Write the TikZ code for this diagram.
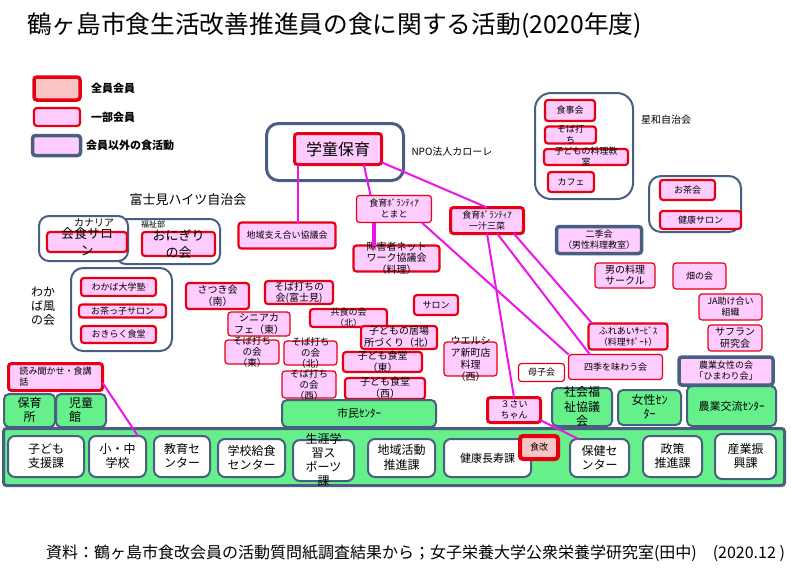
\documentclass[tikz,border=0pt]{standalone}
\usepackage{fontspec}
\setmainfont{Noto Sans CJK JP}
\usetikzlibrary{positioning}

\definecolor{memred}{RGB}{230,0,18}
\definecolor{memfill}{RGB}{255,204,255}
\definecolor{allfill}{RGB}{248,196,196}
\definecolor{slate}{RGB}{72,95,130}
\definecolor{mintgreen}{RGB}{102,240,140}
\definecolor{linkpink}{RGB}{235,20,235}

% text block that does not change the size of its box
\newcommand\boxtxt[2][c]{\smash{\raisebox{-.35em}{\begin{tabular}{@{}#1@{}}#2\end{tabular}}}}

\begin{document}
\begin{tikzpicture}[
        x=1pt, y=-1pt,
        every node/.style={inner sep=0pt, outer sep=0pt},
        t8/.style={font=\fontsize{8}{9.5}\selectfont},
        t9/.style={font=\fontsize{9}{11}\selectfont},
        t10/.style={font=\fontsize{10}{11.5}\selectfont},
        tight/.style={font=\fontsize{9.5}{9.8}\selectfont},
        t11/.style={font=\fontsize{11}{13}\selectfont},
        t12/.style={font=\fontsize{12}{14}\selectfont},
        t13/.style={font=\fontsize{13}{17.5}\selectfont},
        t16/.style={font=\fontsize{16}{19}\selectfont},
        t24/.style={font=\fontsize{24.7}{28}\selectfont},
        sz/.style 2 args={minimum width=#1pt, minimum height=#2pt},
        allbox/.style={draw=memred, line width=3.5pt, fill=allfill, rounded corners=3pt},
        thickbox/.style={draw=memred, line width=2.2pt, fill=memfill, rounded corners=3pt},
        partbox/.style={draw=memred, line width=1.2pt, fill=memfill, rounded corners=3pt},
        otherbox/.style={draw=slate, line width=3.5pt, fill=memfill, rounded corners=3pt},
        group/.style={draw=slate, line width=2pt, fill=white, rounded corners=12pt},
        place/.style={draw=slate, line width=2pt, fill=mintgreen, rounded corners=5pt},
        dept/.style={draw=slate, line width=2pt, fill=white, rounded corners=7pt},
        link/.style={draw=linkpink, line width=2pt}
    ]
        \useasboundingbox (0,0) rectangle (791,571);

        % title and legend
        \node[t24, anchor=west] (title) at (27,25) {鶴ヶ島市食生活改善推進員の食に関する活動(2020年度)};
        \node[allbox, sz={46}{23}] (legall) at (57,88.5) {};
        \node[t11, right=11pt of legall] (legalltxt) {\bfseries 全員会員};
        \node[thickbox, sz={46}{18}] (legpart) at (57,117) {};
        \node[t11, right=11pt of legpart] (legparttxt) {\bfseries 一部会員};
        \node[otherbox, sz={48}{20}] (legother) at (56.5,145.5) {};
        \node[t11, right=5.5pt of legother] (legothertxt) {\bfseries 会員以外の食活動};

        % 学童保育
        \node[group, line width=3pt, sz={137}{57}] (gakudogrp) at (335,152) {};
        \node[thickbox, line width=3pt, sz={87}{31}, t16] (gakudo) at (338,149) {学童保育};
        \node[t10, right=8pt of gakudogrp] (npo) {NPO法人カローレ};

        % 星和自治会
        \node[group, rounded corners=16pt, sz={98}{106}] (seiwagrp) at (584,146) {};
        \node[thickbox, sz={50}{21}, t9] (shokuji) at (570,110.5) {食事会};
        \node[thickbox, sz={51}{17}, t9] (sobauchi) at (570.5,135) {\boxtxt{そば打\\ち}};
        \node[thickbox, sz={84}{16}, t9] (ryori) at (586,157) {\boxtxt{子どもの料理教\\室}};
        \node[thickbox, sz={46}{20}, t9] (cafe) at (571,182) {カフェ};
        \node[t10, anchor=west] (seiwa) at (641,120) {星和自治会};

        \node[group, sz={92}{56}] (ochagrp) at (695,204) {};
        \node[thickbox, sz={55}{20}, t9] (ochakai) at (687.5,190) {お茶会};
        \node[thickbox, sz={81}{18}, t9] (kenkosalon) at (700.5,220) {健康サロン};

        % right side
        \node[otherbox, sz={85}{27}, t9] (nikikai) at (599,240) {\boxtxt{二季会\\（男性料理教室）}};
        \node[partbox, sz={60}{25}, t10] (otoko) at (625,275.5) {\boxtxt{男の料理\\サークル}};
        \node[partbox, sz={53}{26}, t9] (hatake) at (699.5,276) {畑の会};
        \node[partbox, sz={63}{26}, t9] (ja) at (730.5,307) {\boxtxt{JA助け合い\\組織}};
        \node[partbox, sz={54}{26}, t10] (saffron) at (735,338) {\boxtxt{サフラン\\研究会}};
        \node[otherbox, sz={94}{28}, t9] (himawari) at (726,371) {\boxtxt{農業女性の会\\「ひまわり会」}};
        \node[thickbox, sz={79}{26}, t9] (fureai) at (628,336.5) {\boxtxt{ふれあいｻｰﾋﾞｽ\\（料理ｻﾎﾟｰﾄ）}};
        \node[partbox, sz={94}{25}, t9] (shiki) at (615.5,367) {四季を味わう会};
        \node[partbox, fill=white, sz={46}{18}, t9] (boshi) at (541.5,372.5) {母子会};

        % 食育ボランティア
        \node[thickbox, line width=3pt, sz={73}{26}, t9] (ichiju) at (487,220.5) {\boxtxt{食育ﾎﾞﾗﾝﾃｨｱ\\一汁三菜}};
        \node[partbox, sz={75}{27}, t9] (tomato) at (394,209) {\boxtxt{食育ﾎﾞﾗﾝﾃｨｱ\\とまと}};
        \node[thickbox, sz={86}{26}, t10] (shogai) at (396.5,258.5) {\boxtxt{障害者ネット\\ワーク協議会\\（料理）}};
        \node[thickbox, sz={97}{26}, t9] (chiiki) at (287,235.5) {地域支え合い協議会};
        \node[t13] (fujimi) at (188,200) {富士見ハイツ自治会};

        % カナリア, 福祉部
        \node[group, rounded corners=10pt, sz={104}{45}] (fukushigrp) at (168,241.5) {};
        \node[group, rounded corners=10pt, sz={89}{45}] (canarygrp) at (83.5,238.5) {};
        \node[t10] (canarytxt) at (94,223) {カナリア};
        \node[thickbox, sz={80}{20}, t13] (kaishoku) at (87,242) {\boxtxt{会食サロ\\ン}};
        \node[t8] (fukushitxt) at (153,224) {福祉部};
        \node[thickbox, sz={73}{24}, t13] (onigiri) at (178.5,244) {\boxtxt{おにぎり\\の会}};

        % わかば風の会
        \node[group, sz={101}{83}] (wakabagrp) at (121.5,309.5) {};
        \node[t12, align=center] (wakabatxt) at (43,306) {わか\\ば風\\の会};
        \node[thickbox, sz={75}{18}, t9] (wakabadai) at (118.5,287) {わかば大学塾};
        \node[thickbox, sz={87}{13}, t9] (ochakko) at (122.5,311) {お茶っ子サロン};
        \node[thickbox, sz={75}{17}, t9] (okiraku) at (118.5,334.5) {おきらく食堂};

        % middle
        \node[thickbox, sz={63}{26}, t10] (satsuki) at (217.5,296) {\boxtxt{さつき会\\（南）}};
        \node[thickbox, sz={68}{23}, t10] (sobafujimi) at (299,292.5) {\boxtxt{そば打ちの\\会(富士見)}};
        \node[partbox, sz={62}{24}, t10] (senior) at (259,324) {\boxtxt{シニアカ\\フェ（東）}};
        \node[thickbox, sz={77}{18}, t9] (kyoshoku) at (348.5,318) {\boxtxt{共食の会\\（北）}};
        \node[thickbox, sz={44}{20}, t9] (salon) at (436,305) {サロン};
        \node[thickbox, sz={76}{23}, t10] (ibasho) at (399,337.5) {\boxtxt{子どもの居場\\所づくり（北）}};
        \node[partbox, sz={54}{24}, tight] (sobahigashi) at (252,352) {\boxtxt{そば打ち\\の会\\（東）}};
        \node[partbox, sz={53}{24}, tight] (sobakita) at (310.5,353) {\boxtxt{そば打ち\\の会\\（北）}};
        \node[thickbox, sz={79}{20}, t10] (shokudoeast) at (382.5,362) {\boxtxt{子ども食堂\\（東）}};
        \node[thickbox, sz={80}{21}, t10] (shokudowest) at (385,388.5) {\boxtxt{子ども食堂\\（西）}};
        \node[partbox, sz={54}{27}, tight] (sobanishi) at (309,384.5) {\boxtxt{そば打ち\\の会\\（西）}};
        \node[partbox, sz={53}{34}, t10] (welcia) at (470.5,359) {\boxtxt{ウエルシ\\ア新町店\\料理\\（西）}};
        \node[thickbox, line width=3pt, sz={53}{25}, t9] (sansai) at (514,410) {\boxtxt{３さい\\ちゃん}};
        \node[thickbox, line width=3pt, sz={94}{27}, t9] (yomi) at (55.5,377) {\boxtxt[l]{読み聞かせ・食講\\話}};

        % facilities
        \node[place, line width=3pt, rounded corners=3pt, sz={781}{57}] (band) at (394,457) {};
        \node[place, sz={51}{33}, t12] (hoiku) at (29.5,410.5) {\boxtxt{保育\\所}};
        \node[place, sz={50}{33}, t12] (jido) at (81,410.5) {\boxtxt[l]{児童\\館}};
        \node[place, sz={154}{27}, t11] (shimin) at (359,413.5) {市民ｾﾝﾀｰ};
        \node[place, sz={60}{38}, t12] (shakyo) at (582,407) {\boxtxt{社会福\\祉協議\\会}};
        \node[place, sz={63}{35}, t12] (josei) at (649.5,407.5) {\boxtxt{女性ｾﾝ\\ﾀｰ}};
        \node[place, sz={89}{40}, t11] (nogyo) at (731.5,406) {農業交流ｾﾝﾀｰ};

        % city offices
        \node[dept, sz={76}{41}, t12] (kodomo) at (46,456.5) {\boxtxt{子ども\\支援課}};
        \node[dept, sz={57}{41}, t12] (shochu) at (117.5,456.5) {\boxtxt{小・中\\学校}};
        \node[dept, sz={56}{41}, t12] (kyoiku) at (182,456.5) {\boxtxt{教育セ\\ンター}};
        \node[dept, sz={67}{38}, t12] (kyushoku) at (251.5,458) {\boxtxt{学校給食\\センター}};
        \node[dept, sz={61}{41}, t12] (sports) at (323.5,460.5) {\boxtxt{生涯学\\習ス\\ポーツ\\課}};
        \node[dept, sz={67}{38}, t12] (katsudo) at (401.5,458) {\boxtxt{地域活動\\推進課}};
        \node[dept, sz={87}{38}, t11] (kenko) at (487.5,458) {健康長寿課};
        \node[allbox, line width=4pt, sz={38}{23}, t9] (shokukai) at (539,447.5) {食改};
        \node[dept, sz={59}{38}, t12] (hoken) at (599.5,458) {\boxtxt{保健セ\\ンター}};
        \node[dept, sz={59}{41}, t12] (seisaku) at (672.5,456.5) {\boxtxt{政策\\推進課}};
        \node[dept, sz={61}{45}, t12] (sangyo) at (745.5,456.5) {\boxtxt{産業振\\興課}};

        % links
        \draw[link] (gakudo.-159) -- (gakudo.-159 |- chiiki.north);
        \draw[link] (gakudo.-31) -- (tomato.150);
        \draw[link] (gakudo.-17) -- (ichiju.north);
        \draw[link, line width=3.5pt] (tomato.-146) -- (tomato.-146 |- shogai.north);
        \draw[link] (tomato.-26) -- (shiki.north west);
        \draw[link] (ichiju.south) -- (sansai.north);
        \draw[link] (ichiju.-52) -- (shiki.154);
        \draw[link] (ichiju.-26) -- (fureai.160);
        \draw[link] (yomi.-7) -- (shochu.45);
        \draw[link] (sansai.-21) -- (hoken.138);

        \node[t16, anchor=west] (source) at (46,553) {資料：鶴ヶ島市食改会員の活動質問紙調査結果から；女子栄養大学公衆栄養学研究室(田中)　(2020.12 )};
    \end{tikzpicture}
\end{document}
